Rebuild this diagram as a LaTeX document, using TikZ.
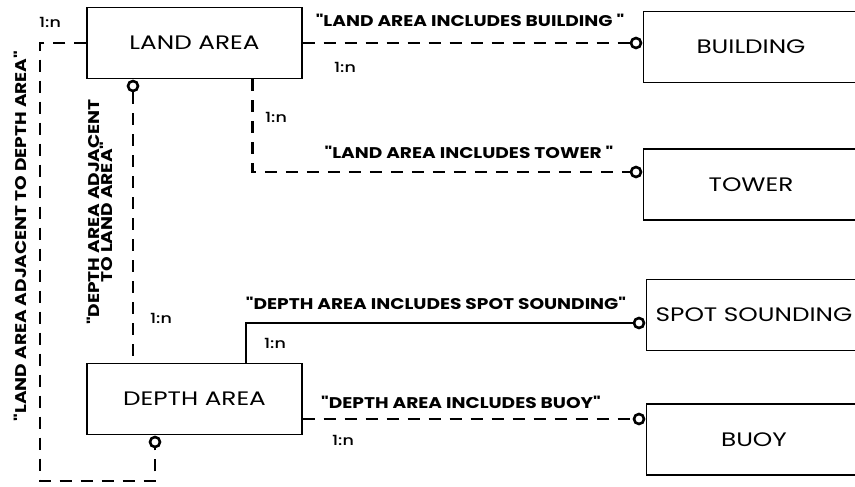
\documentclass[tikz,border=0pt]{standalone}
\usepackage{fontspec}
\setmainfont{Poppins}
\newfontfamily\boxfont[FakeStretch=1.27]{Poppins}
\newfontfamily\relfont[FakeStretch=1.2]{Poppins Bold}
\newfontfamily\cardfont[FakeStretch=1.25]{Poppins Medium}
\begin{document}
\begin{tikzpicture}[
    x=1pt, y=-1pt,
    entity/.style={draw, line width=1.3pt, minimum width=215pt, minimum height=71pt,
                   inner sep=0pt, font=\boxfont\fontsize{19.5}{21}\selectfont},
    ring/.style={draw, circle, line width=2.6pt, minimum size=10pt, inner sep=0pt},
    rel/.style={font=\relfont\fontsize{15.5}{16}\selectfont, inner sep=1pt},
    card/.style={font=\cardfont\fontsize{14}{15}\selectfont, inner sep=1pt},
    dashline/.style={line width=2.6pt, dash pattern=on 12pt off 9pt},
    solidline/.style={line width=2.2pt}
]
\clip (0,0) rectangle (855,487);

\node (landarea)  [entity] at (194.5,43)  {LAND AREA};
\node (deptharea) [entity] at (194.5,399) {DEPTH AREA};
\node (building)  [entity] at (751,47)    {BUILDING};
\node (tower)     [entity] at (751,184.5) {TOWER};
\node (spot)      [entity] at (754,315)   {SPOT SOUNDING};
\node (buoy)      [entity] at (754,439.5) {BUOY};

\node (bring) [ring] at (636,43)  {};
\node (tring) [ring] at (636,172) {};
\node (sring) [ring] at (639,323) {};
\node (yring) [ring] at (639,419) {};
\node (lring) [ring] at (133,86)  {};
\node (dring) [ring] at (155,442) {};
\coordinate (lcorner) at (40,481);

% Edges
\draw[dashline] (landarea.east) -- (bring);
\draw[dashline] ([xshift=-50pt]landarea.south east) |- (tring);
\draw[solidline] ([xshift=-57pt]deptharea.north east) |- (sring);
\draw[dashline] ([yshift=-20pt]deptharea.east) -- (yring);
\draw[dashline] (lring) -- (lring |- deptharea.north);
\draw[dashline] (landarea.west) -| (lcorner) -| (dring);

% Labels
\node (lbl1) [rel] at (470,20)  {"LAND AREA INCLUDES BUILDING "};
\node (lbl2) [rel] at (469,152) {"LAND AREA INCLUDES TOWER "};
\node (lbl3) [rel] at (436,303) {"DEPTH AREA INCLUDES SPOT SOUNDING"};
\node (lbl4) [rel] at (461,402) {"DEPTH AREA INCLUDES BUOY"};
\node (lbl5) [rel, rotate=90] at (20,236) {"LAND AREA ADJACENT TO DEPTH AREA"};
\node (lbl6) [rel, rotate=90, align=center, font=\relfont\fontsize{15.5}{13}\selectfont]
    at (100,212) {"DEPTH AREA ADJACENT\\TO LAND AREA"};

\node (c1) [card] at (50,22)   {1:n};
\node (c2) [card] at (345,67)  {1:n};
\node (c3) [card] at (276,117) {1:n};
\node (c4) [card] at (161,318) {1:n};
\node (c5) [card] at (275,343) {1:n};
\node (c6) [card] at (343,440) {1:n};

\end{tikzpicture}
\end{document}
